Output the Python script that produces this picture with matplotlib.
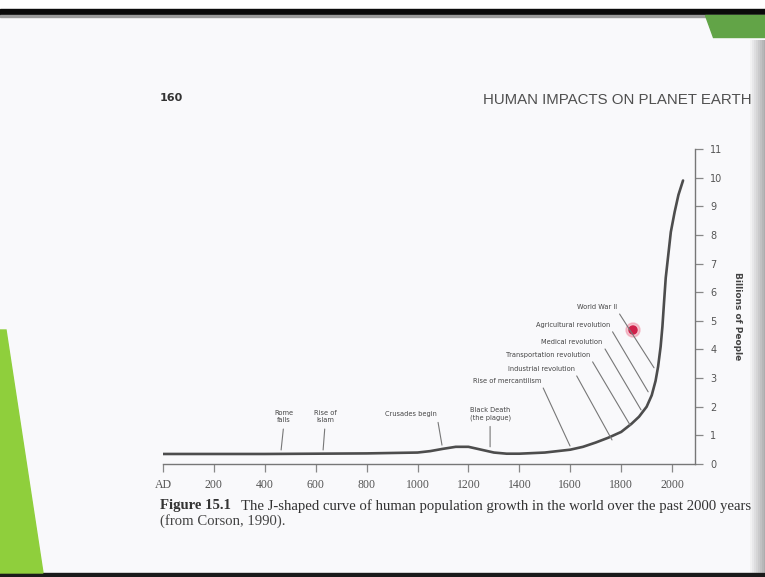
import numpy as np
import matplotlib.pyplot as plt
from matplotlib.patches import Polygon, Rectangle, Circle

# population curve (year, billions of people)
years = [0, 200, 400, 600, 800, 1000, 1050, 1100, 1150, 1200, 1250, 1300, 1350,
         1400, 1500, 1600, 1650, 1700, 1750, 1800, 1840, 1870, 1900, 1920, 1935,
         1945, 1955, 1962, 1968, 1975, 1985, 1995, 2010, 2025, 2043]
population = [0.35, 0.35, 0.35, 0.36, 0.37, 0.40, 0.45, 0.53, 0.60, 0.60, 0.50, 0.40, 0.36,
              0.36, 0.40, 0.50, 0.60, 0.75, 0.92, 1.12, 1.40, 1.65, 2.00, 2.40, 2.90,
              3.40, 4.10, 4.80, 5.60, 6.50, 7.30, 8.10, 8.80, 9.40, 9.90]

x_ticks = [0, 200, 400, 600, 800, 1000, 1200, 1400, 1600, 1800, 2000]
x_labels = ['AD', '200', '400', '600', '800', '1000', '1200', '1400', '1600', '1800', '2000']
y_ticks = list(range(0, 12))

# events: label, year and value where the leader line meets the curve
vert_events = ['Rome\nfalls', 'Rise of\nIslam', 'Crusades begin', 'Black Death\n(the plague)']
vert_years = [464, 629, 1096, 1285]
vert_vals = [0.49, 0.49, 0.66, 0.60]
vert_text = [(475, 1.65), (637, 1.65), (975, 1.75), (1285, 1.75)]

diag_events = ['Rise of mercantilism', 'Industrial revolution', 'Transportation revolution',
               'Medical revolution', 'Agricultural revolution', 'World War II']
diag_years = [1599, 1764, 1835, 1878, 1906, 1929]
diag_vals = [0.63, 0.84, 1.36, 1.89, 2.52, 3.36]
diag_text = [(1352, 2.90), (1485, 3.32), (1513, 3.81), (1607, 4.26), (1611, 4.86), (1705, 5.48)]

W, H = 765, 577
fig = plt.figure(figsize=(W / 100, H / 100), dpi=100)
fig.patch.set_facecolor('#f9f9fb')

# page decorations drawn in pixel coordinates
bg = fig.add_axes([0, 0, 1, 1], zorder=0)
bg.set_xlim(0, W)
bg.set_ylim(H, 0)
bg.axis('off')
bg.add_patch(Rectangle((0, 0), W, 9, color='#ffffff'))
bg.add_patch(Rectangle((0, 9), W, 6, color='#0a0a0a'))
bg.add_patch(Rectangle((0, 15), W, 2, color='#9a9a9a'))
bg.add_patch(Rectangle((0, 573), W, 4, color='#1a1a1a'))
bg.add_patch(Polygon([(0, 330), (6, 330), (43, 573), (0, 573)], closed=True, color='#8fcf3c'))
bg.add_patch(Polygon([(705, 15), (765, 15), (765, 37), (713, 37)], closed=True, color='#62a447'))
for i, a in enumerate(np.linspace(0.05, 0.55, 8)):
    bg.add_patch(Rectangle((750 + i * 2, 40), 2, 533, color='#707070', alpha=a, lw=0))
bg.add_patch(Circle((633, 330), 7, color='#f08aa0', alpha=0.5))
bg.add_patch(Circle((633, 330), 4, color='#d0204a'))

bg.text(160, 98, '160', fontsize=8, fontweight='bold', color='#333333', va='center')
bg.text(752, 100, 'HUMAN IMPACTS ON PLANET EARTH', fontsize=10.8, color='#505050',
        ha='right', va='center', fontfamily='Liberation Sans')
bg.text(160, 506, 'Figure 15.1', fontsize=10.6, fontweight='bold', color='#333333',
        va='center', fontfamily='Liberation Serif')
bg.text(241, 506, 'The J-shaped curve of human population growth in the world over the past 2000 years',
        fontsize=10.6, color='#333333', va='center', fontfamily='Liberation Serif')
bg.text(160, 521, '(from Corson, 1990).', fontsize=10.6, color='#444444', va='center',
        fontfamily='Liberation Serif')
bg.text(738, 316, 'Billions of People', fontsize=6.5, fontweight='bold', color='#444444',
        rotation=270, ha='center', va='center')

# chart
ax = fig.add_axes([163 / W, 1 - 464 / H, (695 - 163) / W, (464 - 149) / H], zorder=1)
ax.patch.set_alpha(0)
ax.plot(years, population, color='#4d4d4d', lw=1.9, solid_capstyle='round')
ax.set_xlim(0, 2090)
ax.set_ylim(0, 11)
for s in ['left', 'top']:
    ax.spines[s].set_visible(False)
for s in ['bottom', 'right']:
    ax.spines[s].set_color('#777777')
    ax.spines[s].set_linewidth(1.0)
ax.set_xticks(x_ticks)
ax.set_xticklabels(x_labels, fontfamily='Liberation Serif')
ax.yaxis.tick_right()
ax.set_yticks(y_ticks)
ax.tick_params(axis='x', direction='out', length=6, width=0.9, color='#888888',
               labelsize=8.5, labelcolor='#555555', pad=5)
ax.tick_params(axis='y', direction='out', length=6, width=0.9, color='#888888',
               labelsize=7, labelcolor='#555555', pad=5)

for label, yr, val, (tx, ty) in zip(vert_events, vert_years, vert_vals, vert_text):
    rel = (1, 0) if label == 'Crusades begin' else (0.5, 0)
    ax.annotate(label, xy=(yr, val), xytext=(tx, ty), fontsize=4.8, color='#444444',
                ha='center', va='center', linespacing=1.3,
                arrowprops=dict(arrowstyle='-', color='#777777', lw=0.8, relpos=rel,
                                shrinkA=2, shrinkB=0))

for label, yr, val, (tx, ty) in zip(diag_events, diag_years, diag_vals, diag_text):
    ax.annotate(label, xy=(yr, val), xytext=(tx, ty), fontsize=4.8, color='#444444',
                ha='center', va='center',
                arrowprops=dict(arrowstyle='-', color='#777777', lw=0.8, relpos=(1, 0),
                                shrinkA=1, shrinkB=0))

plt.savefig('out.png', dpi=100, facecolor=fig.get_facecolor())
